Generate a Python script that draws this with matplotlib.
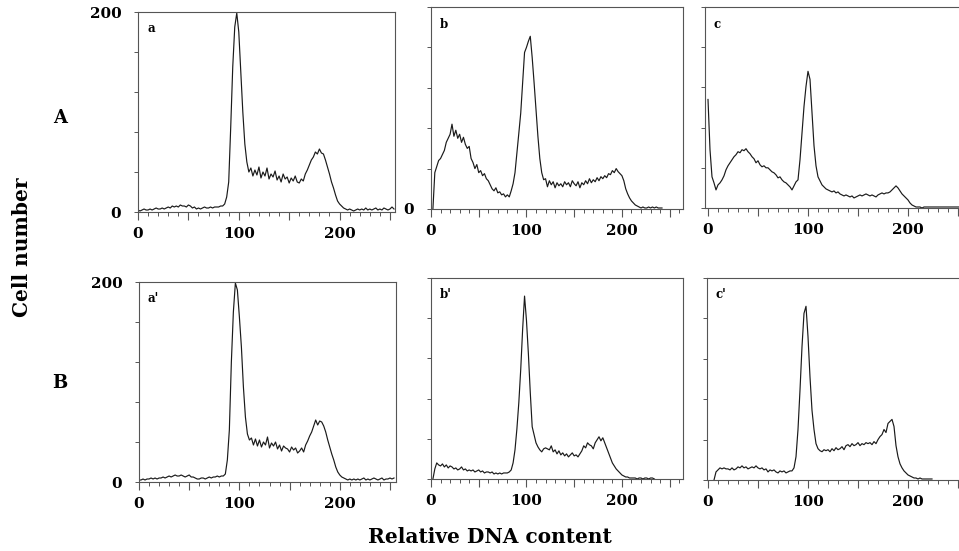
import numpy as np
import matplotlib
matplotlib.use("Agg")
import matplotlib.pyplot as plt
from matplotlib.ticker import MultipleLocator

nan = np.nan
channels = np.arange(0, 256, 2)

counts_a = [2, 1, 2, 3, 2, 2, 3, 2, 3, 4,
            3, 3, 4, 3, 4, 5, 4, 6, 5, 6,
            5, 7, 6, 6, 5, 7, 6, 4, 5, 3,
            4, 3, 4, 5, 4, 4, 5, 4, 5, 5,
            5, 6, 6, 8, 15, 30, 85, 145, 185, 199,
            180, 140, 100, 68, 50, 40, 44, 36, 42, 37,
            45, 34, 40, 36, 44, 33, 38, 35, 41, 32,
            36, 30, 38, 33, 35, 29, 34, 31, 36, 30,
            29, 33, 31, 38, 42, 47, 52, 55, 60, 58,
            63, 59, 58, 52, 45, 38, 30, 24, 17, 11,
            8, 6, 4, 3, 2, 3, 2, 1, 2, 3,
            2, 3, 2, 4, 2, 3, 2, 3, 4, 2,
            3, 2, 4, 3, 2, 3, 5, 3]

counts_b = [nan, 0, 36, 42, 48, 50, 54, 58, 66, 70,
            74, 84, 72, 78, 70, 74, 66, 71, 64, 60,
            62, 50, 46, 40, 44, 36, 38, 33, 35, 30,
            28, 24, 20, 18, 21, 16, 17, 14, 15, 12,
            14, 12, 18, 25, 36, 55, 75, 95, 125, 155,
            160, 166, 171, 150, 125, 98, 72, 50, 36, 29,
            30, 22, 28, 24, 27, 21, 26, 23, 25, 22,
            27, 24, 26, 22, 28, 25, 23, 27, 21, 26,
            24, 28, 25, 30, 26, 29, 27, 31, 28, 32,
            30, 33, 31, 35, 34, 38, 36, 40, 37, 35,
            33, 28, 20, 15, 11, 8, 6, 4, 3, 2,
            1, 2, 1, 1, 2, 1, 2, 1, 2, 1,
            1, 1, nan, nan, nan, nan, nan, nan]

counts_c = [108, 58, 31, 25, 18, 23, 25, 28, 32, 38,
            42, 45, 48, 51, 53, 56, 55, 58, 57, 59,
            56, 54, 51, 49, 45, 47, 43, 41, 42, 40,
            40, 38, 36, 35, 33, 30, 31, 28, 26, 25,
            23, 21, 18, 22, 26, 28, 48, 75, 101, 121,
            136, 128, 95, 62, 42, 31, 27, 23, 21, 19,
            18, 17, 16, 17, 15, 16, 14, 13, 12, 13,
            12, 11, 12, 10, 11, 12, 13, 12, 13, 14,
            13, 12, 13, 12, 11, 13, 14, 15, 14, 15,
            15, 16, 18, 20, 22, 20, 17, 14, 12, 10,
            8, 5, 3, 2, 1, 1, 1, 0, 1, 1,
            1, 1, 1, 1, 1, 1, 1, 1, 1, 1,
            1, 1, 1, 1, 1, 1, 1, 1]

counts_a2 = [2, 2, 3, 2, 3, 3, 4, 3, 4, 3,
             4, 4, 5, 4, 5, 6, 5, 6, 7, 6,
             6, 7, 6, 5, 6, 7, 5, 5, 4, 3,
             3, 4, 4, 3, 4, 5, 4, 5, 5, 6,
             5, 6, 6, 8, 22, 52, 120, 170, 199, 192,
             165, 135, 95, 65, 48, 42, 44, 37, 43, 36,
             42, 35, 40, 37, 45, 34, 39, 36, 40, 33,
             37, 31, 36, 34, 33, 30, 35, 32, 34, 29,
             31, 34, 30, 37, 41, 46, 50, 56, 62, 57,
             61, 60, 56, 50, 42, 35, 28, 22, 15, 10,
             7, 5, 4, 3, 2, 3, 2, 3, 2, 3,
             2, 3, 4, 2, 3, 2, 3, 4, 3, 2,
             3, 4, 2, 3, 3, 4, 3, 4]

counts_b2 = [nan, 0, 10, 16, 14, 13, 15, 12, 14, 11,
             13, 12, 10, 11, 9, 10, 12, 9, 10, 8,
             9, 8, 9, 7, 8, 9, 7, 8, 6, 7,
             7, 6, 7, 5, 6, 5, 6, 5, 6, 6,
             6, 7, 9, 16, 29, 50, 76, 109, 149, 182,
             158, 125, 86, 52, 44, 36, 32, 29, 27, 30,
             31, 30, 29, 33, 27, 29, 25, 28, 24, 26,
             23, 25, 22, 24, 26, 23, 24, 22, 25, 28,
             33, 31, 36, 34, 33, 30, 36, 39, 42, 38,
             41, 36, 31, 26, 21, 16, 13, 10, 8, 6,
             4, 3, 2, 2, 1, 1, 1, 1, 0, 1,
             1, 0, 1, 1, 0, 1, 1, 0, nan, nan,
             nan, nan, nan, nan, nan, nan, nan, nan]

counts_c2 = [nan, nan, nan, 0, 8, 10, 12, 11, 12, 11,
             11, 10, 12, 10, 11, 13, 12, 14, 12, 13,
             11, 12, 13, 12, 14, 12, 11, 12, 10, 11,
             8, 10, 9, 10, 8, 7, 9, 8, 9, 7,
             8, 9, 9, 12, 23, 50, 89, 132, 165, 172,
             142, 102, 69, 50, 36, 31, 29, 28, 30, 29,
             30, 28, 31, 29, 32, 30, 31, 33, 30, 34,
             35, 33, 36, 34, 35, 37, 34, 36, 35, 37,
             36, 37, 35, 38, 36, 40, 43, 45, 50, 47,
             56, 58, 60, 53, 34, 23, 16, 12, 9, 7,
             5, 4, 3, 2, 2, 1, 2, 1, 1, 1,
             1, 1, 1, nan, nan, nan, nan, nan, nan, nan,
             nan, nan, nan, nan, nan, nan, nan, nan]

panel_letters = ["a", "b", "c", "a'", "b'", "c'"]
x_tick_labels = ["0", "", "100", "", "200", ""]
row_labels = ["A", "B"]
y_label = "Cell number"
x_label = "Relative DNA content"

plt.rcParams['font.family'] = ['DejaVu Serif']
plt.rcParams['font.weight'] = 'bold'

W, H = 959, 551
fig = plt.figure(figsize=(W / 100, H / 100), dpi=100)


def fx(px):
    return px / W


def fy(py):
    return 1 - py / H


def add_ax(l, r, t, b):
    return fig.add_axes([l / W, 1 - b / H, (r - l) / W, (b - t) / H])


# (data, letter, box(l,r,t,b), xlim, y labels, right spine)
panels = [
    (counts_a, panel_letters[0], (138, 395, 12, 212), (0, 255), ["0", "", "", "", "", "200"], True),
    (counts_b, panel_letters[1], (431, 683, 7, 209), (0, 264), ["0", "", "", "", "", ""], True),
    (counts_c, panel_letters[2], (705, 962, 7, 208), (-3, 254), None, False),
    (counts_a2, panel_letters[3], (139, 396, 282, 482), (0, 256), ["0", "", "", "", "", "200"], True),
    (counts_b2, panel_letters[4], (431, 683, 278, 479), (0, 264), None, True),
    (counts_c2, panel_letters[5], (707, 962, 278, 480), (-1, 254), None, False),
]

line_col = '#1a1a1a'
spine_col = '#555555'

for data, letter, (l, r, t, b), xl, ylabels, right_sp in panels:
    ax = add_ax(l, r, t, b)
    ax.plot(channels, data, color=line_col, lw=0.85)
    ax.set_xlim(*xl)
    ax.set_ylim(0, 200)
    for s in ax.spines.values():
        s.set_color(spine_col)
        s.set_linewidth(0.8)
    if not right_sp:
        ax.spines['right'].set_visible(False)
    ax.set_xticks(range(0, 251, 50))
    ax.set_xticklabels(x_tick_labels)
    ax.xaxis.set_minor_locator(MultipleLocator(10))
    ax.set_yticks(range(0, 201, 40))
    if ylabels is None:
        ax.set_yticklabels([])
    else:
        ax.set_yticklabels(ylabels)
    ax.tick_params(axis='x', which='major', direction='out', length=6, width=0.8,
                   color=spine_col, labelsize=11, pad=5)
    ax.tick_params(axis='x', which='minor', direction='out', length=3, width=0.7,
                   color=spine_col)
    ax.tick_params(axis='y', which='major', direction='out', length=3, width=0.7,
                   color=spine_col, labelsize=11, pad=9)
    for lab in ax.get_xticklabels() + ax.get_yticklabels():
        lab.set_fontweight('bold')
    fig.text(fx(l + 9), fy(t + 17), letter, fontsize=8.5, fontweight='bold',
             ha='left', va='center')

fig.text(fx(60), fy(118), row_labels[0], fontsize=13, fontweight='bold', ha='center', va='center')
fig.text(fx(60), fy(383), row_labels[1], fontsize=13, fontweight='bold', ha='center', va='center')
fig.text(fx(22), fy(247), y_label, fontsize=14.5, fontweight='bold', rotation=90,
         ha='center', va='center')
fig.text(fx(490), fy(537), x_label, fontsize=14.5, fontweight='bold', ha='center', va='center')

fig.savefig("out.png", dpi=100)
